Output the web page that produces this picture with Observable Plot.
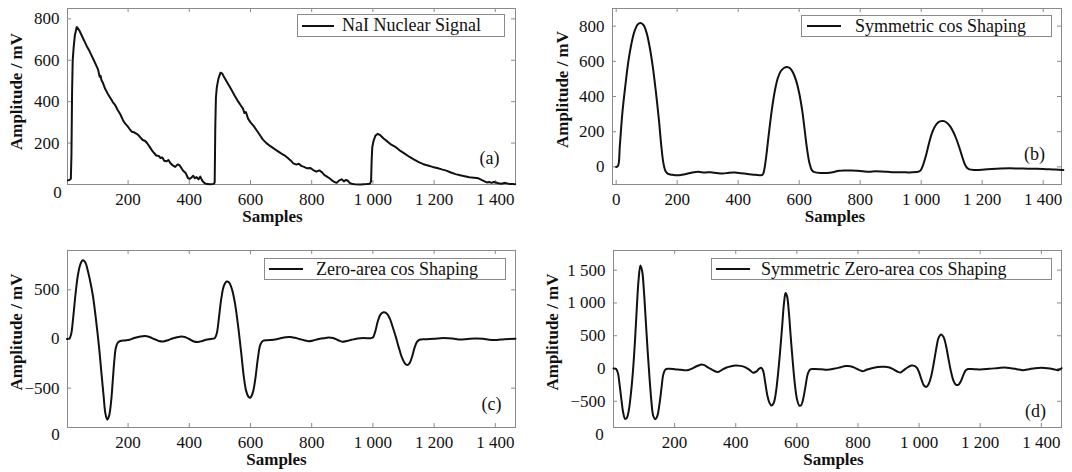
<!DOCTYPE html>
<html>
<head>
<meta charset="utf-8">
<script src="https://cdn.jsdelivr.net/npm/d3@7"></script>
<script src="https://cdn.jsdelivr.net/npm/@observablehq/plot@0.6"></script>
<style>
  html, body { margin: 0; padding: 0; background: #fff; }
  #fig { position: relative; width: 1072px; height: 472px; overflow: hidden; background: #fff;
         font-family: "Liberation Serif", "Times New Roman", serif; color: #111; }
  .panel { position: absolute; width: 536px; height: 236px; }
  .panel svg { font-family: "Liberation Serif", "Times New Roman", serif; }
  .legend { position: absolute; border: 1px solid #8a8a8a; background: #fff; box-sizing: border-box; }
  .legend .swatch { position: absolute; height: 0; border-top: 2px solid #111; }
  .legend .lbl { position: absolute; top: 0; white-space: nowrap; font-size: 18px; }
</style>
</head>
<body>
<div id="fig"></div>
<script>
// ---------- data ----------
const seriesNames = ["NaI Nuclear Signal", "Symmetric cos Shaping", "Zero-area cos Shaping", "Symmetric Zero-area cos Shaping"];
const panelLetters = ["(a)", "(b)", "(c)", "(d)"];
const xLabel = "Samples";
const yLabel = "Amplitude / mV";

const xTicksA = [200, 400, 600, 800, 1000, 1200, 1400];
const xTicksB = [0, 200, 400, 600, 800, 1000, 1200, 1400];
const yTicksA = [200, 400, 600, 800];
const yTicksB = [0, 200, 400, 600, 800];
const yTicksC = [-500, 0, 500];
const yTicksD = [-500, 0, 500, 1000, 1500];

// (a) NaI nuclear signal
const sampA = [3, 8, 13, 15, 17, 19, 22, 26, 32, 36, 42, 50, 58, 65, 72, 80, 88, 95, 102, 107, 110, 113, 118, 125, 133, 142, 150, 158, 166, 175, 183, 190, 198, 205, 212, 220, 228, 234, 240, 248, 256, 263, 270, 278, 285, 292, 300, 306, 312, 318, 325, 332, 338, 346, 354, 362, 368, 374, 380, 388, 396, 402, 408, 413, 418, 424, 430, 436, 441, 447, 452, 458, 468, 480, 483, 485, 487, 490, 495, 502, 508, 515, 525, 535, 548, 560, 570, 576, 580, 585, 592, 600, 610, 620, 630, 640, 652, 665, 678, 690, 700, 712, 722, 732, 740, 750, 758, 766, 775, 785, 795, 805, 815, 825, 833, 842, 850, 858, 866, 874, 882, 890, 898, 905, 912, 918, 924, 930, 940, 960, 980, 990, 994, 996, 998, 1002, 1008, 1016, 1024, 1035, 1048, 1060, 1075, 1090, 1105, 1120, 1135, 1150, 1165, 1180, 1195, 1210, 1225, 1240, 1255, 1270, 1285, 1300, 1315, 1330, 1345, 1355, 1365, 1372, 1380, 1388, 1395, 1402, 1410, 1420, 1432, 1445, 1455, 1465];
const ampA  = [20, 22, 28, 150, 450, 600, 660, 720, 760, 755, 740, 715, 690, 668, 650, 625, 600, 578, 555, 520, 525, 505, 490, 462, 440, 418, 398, 383, 360, 338, 312, 295, 282, 268, 255, 252, 245, 238, 228, 215, 210, 198, 183, 165, 152, 140, 138, 128, 130, 115, 112, 118, 104, 92, 85, 97, 93, 80, 66, 56, 30, 28, 35, 42, 30, 36, 25, 38, 22, 10, 5, 2, 1, 3, 10, 280, 420, 470, 510, 540, 535, 515, 490, 465, 430, 400, 378, 365, 345, 350, 318, 300, 283, 262, 240, 218, 200, 185, 172, 160, 150, 140, 128, 115, 102, 96, 100, 90, 85, 78, 80, 70, 62, 68, 60, 45, 38, 30, 20, 12, 8, 20, 25, 15, 22, 18, 8, 4, 1, 0, 2, 4, 15, 120, 180, 210, 235, 245, 238, 222, 207, 192, 180, 162, 148, 133, 120, 108, 98, 92, 85, 80, 73, 67, 58, 50, 45, 40, 35, 33, 30, 22, 15, 10, 12, 8, 12, 10, 6, 4, 8, 3, 2, 1];

// (b) symmetric cos shaping
const sampB = [0, 6, 12, 20, 30, 40, 50, 60, 70, 80, 90, 100, 110, 120, 130, 140, 148, 155, 162, 170, 185, 200, 215, 235, 255, 270, 290, 310, 330, 350, 370, 390, 410, 430, 450, 470, 480, 485, 492, 500, 510, 520, 530, 540, 550, 560, 570, 580, 590, 600, 610, 618, 626, 634, 642, 650, 670, 690, 710, 730, 750, 770, 790, 810, 830, 850, 870, 890, 910, 930, 950, 970, 990, 998, 1005, 1015, 1025, 1035, 1045, 1055, 1065, 1075, 1085, 1095, 1105, 1115, 1125, 1135, 1143, 1150, 1158, 1170, 1200, 1230, 1260, 1290, 1320, 1350, 1380, 1410, 1440, 1466];
const ampB  = [0, 5, 120, 300, 460, 600, 700, 770, 808, 818, 805, 760, 680, 570, 430, 270, 120, 20, -25, -40, -45, -48, -45, -38, -30, -28, -32, -30, -35, -38, -33, -32, -36, -40, -44, -47, -45, -20, 60, 180, 320, 430, 505, 545, 562, 568, 560, 535, 490, 420, 320, 210, 100, 20, -20, -30, -35, -34, -30, -22, -20, -20, -22, -25, -27, -25, -26, -28, -30, -31, -31, -31, -28, -20, 5, 60, 130, 190, 230, 252, 260, 260, 250, 230, 200, 160, 110, 55, 15, -5, -14, -17, -16, -12, -9, -8, -9, -10, -11, -13, -15, -18];

// (c) zero-area cos shaping
const sampC = [0, 8, 14, 20, 28, 36, 44, 52, 60, 68, 76, 85, 95, 105, 113, 120, 126, 132, 138, 145, 150, 155, 160, 167, 175, 190, 205, 220, 240, 255, 270, 285, 300, 315, 330, 345, 360, 375, 385, 400, 415, 428, 440, 455, 470, 483, 490, 497, 505, 513, 522, 530, 540, 550, 560, 570, 578, 586, 594, 600, 608, 616, 624, 632, 640, 655, 675, 695, 715, 730, 745, 760, 775, 790, 805, 820, 840, 855, 870, 885, 900, 915, 930, 950, 970, 990, 1000, 1008, 1016, 1025, 1035, 1045, 1055, 1065, 1075, 1085, 1095, 1105, 1112, 1120, 1128, 1136, 1144, 1152, 1170, 1200, 1230, 1260, 1285, 1310, 1335, 1360, 1380, 1405, 1430, 1466];
const ampC  = [0, 5, 50, 200, 450, 650, 760, 800, 780, 700, 590, 440, 200, -80, -350, -580, -760, -820, -780, -620, -420, -220, -90, -35, -20, -15, -8, 10, 25, 30, 20, 0, -20, -25, -12, 5, 18, 25, 20, 0, -25, -30, -22, -8, 0, 8, 60, 220, 420, 540, 585, 575, 500, 350, 120, -150, -380, -530, -590, -595, -540, -400, -200, -60, -20, -12, -8, 5, 18, 20, 12, 0, -12, -22, -15, -3, 8, 15, 10, -10, -28, -20, -8, 5, 10, 8, 15, 80, 180, 250, 272, 260, 210, 120, 20, -90, -190, -250, -265, -245, -180, -90, -30, -8, -2, 3, 10, 5, -6, 0, 5, 2, -8, -10, -2, 2];

// (d) symmetric zero-area cos shaping
const sampD = [0, 8, 14, 20, 26, 32, 38, 44, 50, 57, 64, 70, 76, 82, 88, 94, 100, 106, 112, 118, 124, 130, 137, 143, 150, 157, 163, 170, 180, 200, 220, 240, 255, 270, 285, 295, 310, 325, 342, 355, 370, 385, 400, 415, 430, 445, 457, 468, 476, 484, 490, 496, 503, 510, 517, 524, 531, 538, 545, 552, 558, 563, 568, 574, 580, 587, 594, 601, 608, 614, 620, 628, 636, 644, 660, 680, 700, 720, 740, 760, 775, 790, 805, 818, 830, 845, 865, 885, 900, 915, 930, 940, 950, 962, 975, 985, 993, 1000, 1008, 1016, 1024, 1032, 1040, 1048, 1056, 1064, 1072, 1080, 1088, 1096, 1104, 1112, 1120, 1128, 1136, 1144, 1152, 1160, 1180, 1200, 1230, 1260, 1280, 1300, 1320, 1340, 1360, 1380, 1400, 1420, 1440, 1455, 1466];
const ampD  = [0, -5, -60, -250, -480, -680, -770, -750, -640, -380, -20, 400, 900, 1350, 1570, 1480, 1150, 700, 250, -150, -500, -720, -775, -730, -560, -300, -90, -15, -5, -10, -20, -28, -5, 30, 58, 55, 15, -25, -55, -20, 15, 35, 45, 40, 22, -20, -65, -45, -5, 10, -40, -200, -400, -520, -565, -530, -380, -100, 250, 650, 1000, 1150, 1100, 850, 480, 80, -260, -480, -565, -560, -480, -280, -80, -12, -8, -12, -18, -5, 15, 38, 35, 10, -25, -40, -15, 5, 22, 25, 20, -10, -50, -60, -25, 15, 45, 40, 10, -60, -170, -260, -280, -230, -110, 80, 300, 470, 520, 480, 350, 150, -40, -180, -245, -250, -200, -110, -30, -8, -10, -15, -5, 8, 15, 5, -10, -25, -10, 5, 10, 5, -10, -25, 5];

// ---------- drawing ----------
const W = 536, H = 236;
const FRAME = "#8a8a8a";
const FONT = "'Liberation Serif', 'Times New Roman', serif";

function fmt(n) {
  const a = Math.abs(n);
  const s = String(a).replace(/(\d)(?=(\d{3})+$)/g, "$1 ");
  return (n < 0 ? "\u2212" : "") + s;
}

function panel(c) {
  const pw = W - c.ml - c.mr, ph = H - c.mt - c.mb;
  const data = c.xs.map((x, i) => ({x, y: c.ys[i]}));
  const marks = [
    Plot.frame({stroke: FRAME, strokeWidth: 1}),
    Plot.tickX(c.xTicks, {x: d => d, insetTop: ph - 4, stroke: FRAME}),
    Plot.tickX(c.xTicks, {x: d => d, insetBottom: ph - 4, stroke: FRAME}),
    Plot.tickY(c.yTicks, {y: d => d, insetRight: pw - 4, stroke: FRAME}),
    Plot.tickY(c.yTicks, {y: d => d, insetLeft: pw - 4, stroke: FRAME}),
    Plot.axisX({ticks: c.xTicks, tickSize: 0, tickPadding: 8, tickFormat: fmt, label: null, fontSize: 17, fontFamily: FONT}),
    Plot.axisY({ticks: c.yTicks, tickSize: 0, tickPadding: 8, tickFormat: fmt, label: null, fontSize: 17, fontFamily: FONT}),
    Plot.line(data, {x: "x", y: "y", stroke: "#111", strokeWidth: 2, curve: c.curve}),
    Plot.text([xLabel], {text: d => d, frameAnchor: "bottom", textAnchor: "middle", lineAnchor: "middle",
      dx: c.sDx, dy: c.sDy, fontWeight: "bold", fontSize: 17, fontFamily: FONT}),
    Plot.text([yLabel], {text: d => d, frameAnchor: "left", textAnchor: "middle", lineAnchor: "middle",
      rotate: -90, dx: c.aX - c.ml, dy: c.aDy, fontWeight: "bold", fontSize: 17, fontFamily: FONT}),
    Plot.text([c.letter], {text: d => d, frameAnchor: "bottom-right", textAnchor: "middle", lineAnchor: "middle",
      dx: c.lDx, dy: c.lDy, fontSize: 18, fontFamily: FONT})
  ];
  if (c.zero) marks.push(Plot.text(["0"], {text: d => d, frameAnchor: "bottom-left", textAnchor: "middle",
      lineAnchor: "middle", dx: c.zDx, dy: c.zDy, fontSize: 17, fontFamily: FONT}));
  return Plot.plot({
    width: W, height: H,
    marginLeft: c.ml, marginRight: c.mr, marginTop: c.mt, marginBottom: c.mb,
    style: "font-family: 'Liberation Serif', 'Times New Roman', serif; font-size: 17px; color: #111; background: transparent; overflow: visible;",
    x: {domain: c.xDomain}, y: {domain: c.yDomain},
    marks
  });
}

const panels = [
  {left: 0, top: 0, xs: sampA, ys: ampA, xDomain: [2, 1466], yDomain: [0, 850], xTicks: xTicksA, yTicks: yTicksA,
   ml: 67, mr: 21, mt: 8, mb: 52, curve: "linear", sDx: -19, sDy: 32, aX: 16, aDy: -5,
   letter: panelLetters[0], lDx: -26, lDy: -26, zero: true, zDx: -10, zDy: 8,
   legend: {left: 297, top: 14, width: 208, height: 23, lineX: 4, lineW: 32, textX: 44}, name: seriesNames[0]},
  {left: 536, top: 0, xs: sampB, ys: ampB, xDomain: [-12, 1460], yDomain: [-100, 900], xTicks: xTicksB, yTicks: yTicksB,
   ml: 76, mr: 11, mt: 8, mb: 52, curve: "catmull-rom", sDx: -2, sDy: 32, aX: 26, aDy: -7,
   letter: panelLetters[1], lDx: -27, lDy: -30, zero: false,
   legend: {left: 265, top: 15, width: 251, height: 22, lineX: 5, lineW: 34, textX: 53}, name: seriesNames[1]},
  {left: 0, top: 236, xs: sampC, ys: ampC, xDomain: [2, 1466], yDomain: [-900, 900], xTicks: xTicksA, yTicks: yTicksC,
   ml: 67, mr: 21, mt: 14, mb: 45, curve: "catmull-rom", sDx: -15, sDy: 32, aX: 16, aDy: -7,
   letter: panelLetters[2], lDx: -24, lDy: -23, zero: true, zDx: -12, zDy: 7,
   legend: {left: 264, top: 22, width: 242, height: 22, lineX: 4, lineW: 34, textX: 51}, name: seriesNames[2]},
  {left: 536, top: 236, xs: sampD, ys: ampD, xDomain: [0, 1466], yDomain: [-900, 1800], xTicks: xTicksA, yTicks: yTicksD,
   ml: 77, mr: 11, mt: 14, mb: 45, curve: "catmull-rom", sDx: -4, sDy: 32, aX: 16, aDy: -7,
   letter: panelLetters[3], lDx: -26, lDy: -16, zero: true, zDx: -14, zDy: 7,
   legend: {left: 175, top: 22, width: 341, height: 22, lineX: 4, lineW: 34, textX: 49}, name: seriesNames[3]}
];

const fig = document.getElementById("fig");
for (const p of panels) {
  const div = document.createElement("div");
  div.className = "panel";
  div.style.left = p.left + "px";
  div.style.top = p.top + "px";
  div.appendChild(panel(p));
  const lg = document.createElement("div");
  lg.className = "legend";
  const L = p.legend;
  Object.assign(lg.style, {left: L.left + "px", top: L.top + "px", width: L.width + "px", height: L.height + "px"});
  const sw = document.createElement("div");
  sw.className = "swatch";
  Object.assign(sw.style, {left: L.lineX + "px", width: L.lineW + "px", top: (L.height / 2 - 2) + "px"});
  const tx = document.createElement("div");
  tx.className = "lbl";
  tx.textContent = p.name;
  Object.assign(tx.style, {left: L.textX + "px", lineHeight: (L.height - 2) + "px"});
  lg.appendChild(sw);
  lg.appendChild(tx);
  div.appendChild(lg);
  fig.appendChild(div);
}
</script>
</body>
</html>
